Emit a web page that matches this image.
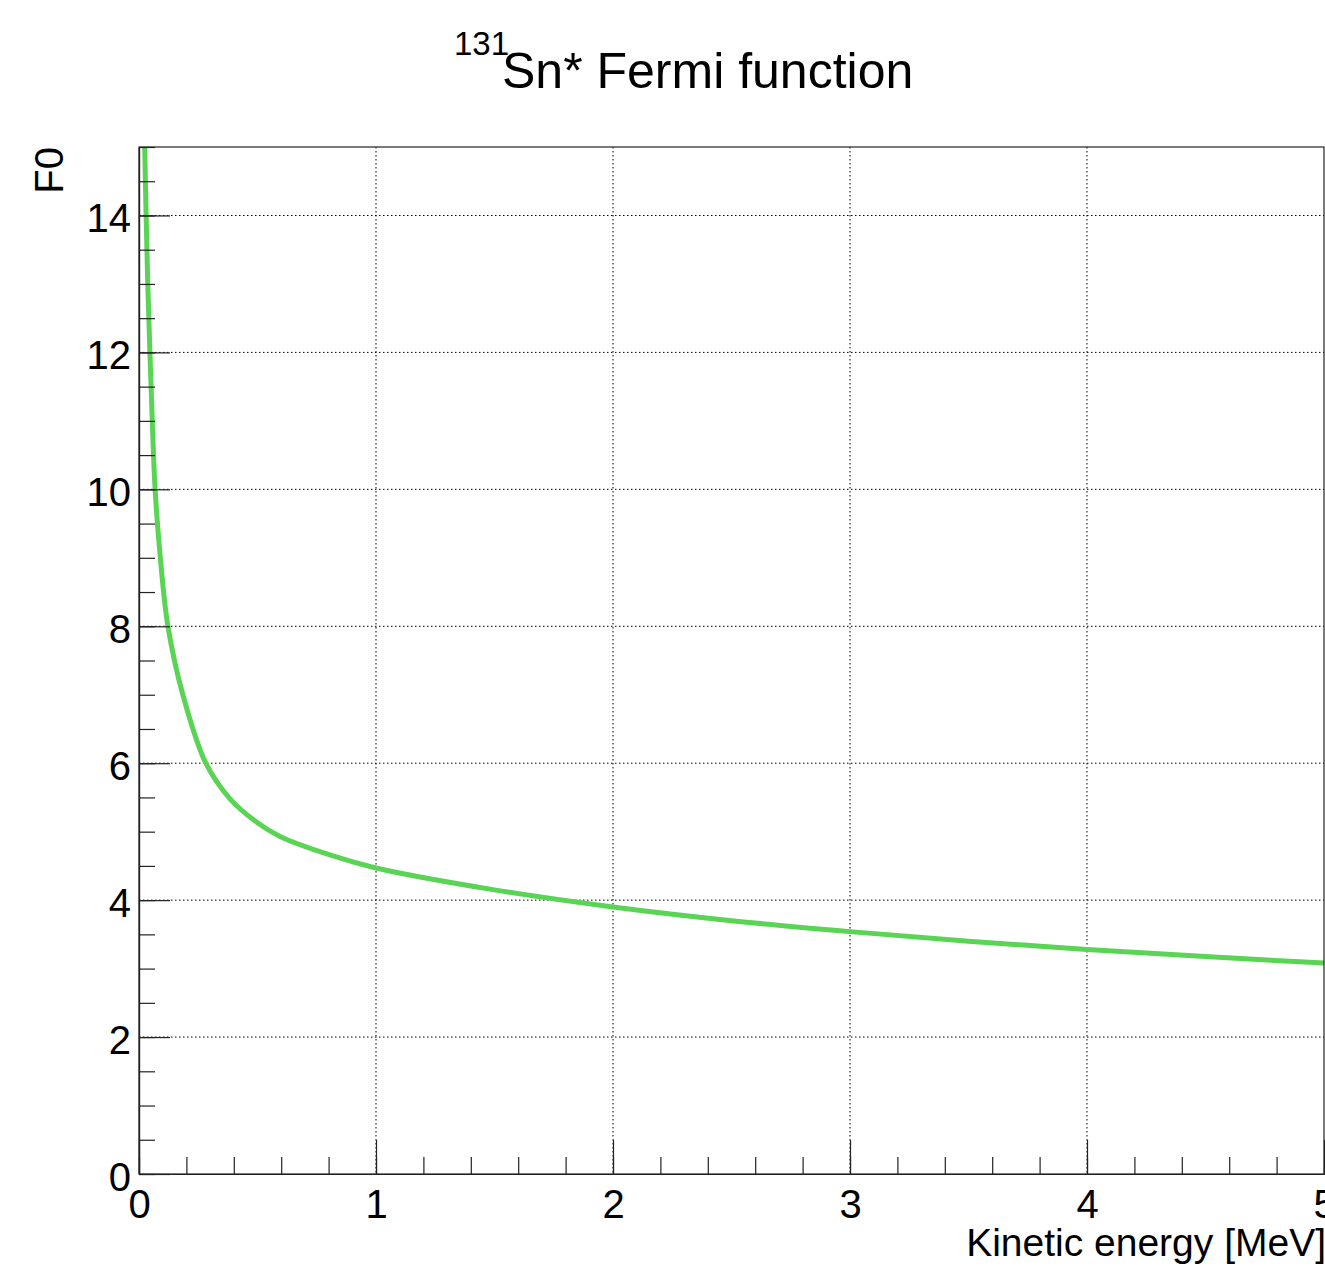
<!DOCTYPE html>
<html>
<head>
<meta charset="utf-8">
<script src="https://cdn.jsdelivr.net/npm/d3@7"></script>
<style>
  body { margin: 0; background: #fff; }
  text { font-family: "Liberation Sans", Arial, sans-serif; fill: #000; }
  .grid-line { stroke: #000; stroke-width: 1; stroke-dasharray: 1.5 2.5; }
  .axis path, .axis line { stroke: #222; stroke-width: 1.2; }
</style>
</head>
<body>
<div id="wrapper"></div>
<script>
// values
const energy = [0.024, 0.03, 0.037, 0.046, 0.056, 0.068, 0.09, 0.122, 0.185, 0.282, 0.384, 0.5, 0.595, 0.806, 1.0, 1.5, 2.0, 2.5, 3.0, 3.5, 4.0, 4.5, 5.0];
const fermi = [15.0, 14.0, 13.0, 12.0, 11.0, 10.0, 9.0, 8.0, 7.0, 6.0, 5.48, 5.13, 4.93, 4.66, 4.47, 4.15, 3.9, 3.7, 3.54, 3.4, 3.28, 3.175, 3.08];
const xTicks = [0, 1, 2, 3, 4, 5];
const yTicks = [0, 2, 4, 6, 8, 10, 12, 14];
const xDomain = [0, 5];
const yDomain = [0, 15];

async function drawChart() {
  // 1. Access data
  const dataset = energy.map((e, i) => ({ x: e, y: fermi[i] }));
  const xAccessor = (d) => d.x;
  const yAccessor = (d) => d.y;

  // 2. Create chart dimensions
  let dimensions = {
    width: 1325,
    height: 1267,
    margin: {
      top: 147,
      right: 1,
      bottom: 93,
      left: 139,
    },
  };
  dimensions.boundedWidth =
    dimensions.width - dimensions.margin.left - dimensions.margin.right;
  dimensions.boundedHeight =
    dimensions.height - dimensions.margin.top - dimensions.margin.bottom;

  // 3. Draw canvas
  const wrapper = d3
    .select("#wrapper")
    .append("svg")
    .attr("width", dimensions.width)
    .attr("height", dimensions.height);

  wrapper
    .append("rect")
    .attr("width", dimensions.width)
    .attr("height", dimensions.height)
    .attr("fill", "#fff");

  const bounds = wrapper
    .append("g")
    .attr(
      "transform",
      `translate(${dimensions.margin.left}, ${dimensions.margin.top})`
    );

  // 4. Create scales
  const xScale = d3
    .scaleLinear()
    .domain(xDomain)
    .range([0, dimensions.boundedWidth]);

  const yScale = d3
    .scaleLinear()
    .domain(yDomain)
    .range([dimensions.boundedHeight, 0]);

  // 5. Draw peripherals (grid first)
  const grid = bounds.append("g");
  grid
    .selectAll(".grid-x")
    .data(xTicks.filter((d) => d > 0 && d < xDomain[1]))
    .join("line")
    .attr("class", "grid-line")
    .attr("x1", (d) => xScale(d))
    .attr("x2", (d) => xScale(d))
    .attr("y1", 0)
    .attr("y2", dimensions.boundedHeight);
  grid
    .selectAll(".grid-y")
    .data(yTicks.filter((d) => d > 0))
    .join("line")
    .attr("class", "grid-line")
    .attr("x1", 0)
    .attr("x2", dimensions.boundedWidth)
    .attr("y1", (d) => yScale(d))
    .attr("y2", (d) => yScale(d));

  // 6. Draw data
  bounds
    .append("clipPath")
    .attr("id", "clip")
    .append("rect")
    .attr("width", dimensions.boundedWidth)
    .attr("height", dimensions.boundedHeight);

  const lineGenerator = d3
    .line()
    .x((d) => xScale(xAccessor(d)))
    .y((d) => yScale(yAccessor(d)))
    .curve(d3.curveCatmullRom.alpha(0.5));

  bounds
    .append("path")
    .attr("clip-path", "url(#clip)")
    .attr("d", lineGenerator(dataset))
    .attr("fill", "none")
    .attr("stroke", "#59d454")
    .attr("stroke-width", 5);

  // frame
  bounds
    .append("rect")
    .attr("width", dimensions.boundedWidth)
    .attr("height", dimensions.boundedHeight)
    .attr("fill", "none")
    .attr("stroke", "#222")
    .attr("stroke-width", 1.2);

  // axes: minor ticks then major ticks
  const xMinor = d3
    .axisBottom(xScale)
    .tickValues(d3.range(0, 5.001, 0.2))
    .tickSizeInner(-17)
    .tickSizeOuter(0)
    .tickFormat("");
  bounds
    .append("g")
    .attr("class", "axis")
    .attr("transform", `translate(0, ${dimensions.boundedHeight})`)
    .call(xMinor);

  const xAxis = d3
    .axisBottom(xScale)
    .tickValues(xTicks)
    .tickSizeInner(-34)
    .tickSizeOuter(0)
    .tickFormat(d3.format("d"));
  const xAxisGroup = bounds
    .append("g")
    .attr("class", "axis")
    .attr("transform", `translate(0, ${dimensions.boundedHeight})`)
    .call(xAxis);
  xAxisGroup
    .selectAll("text")
    .attr("y", 44)
    .attr("dy", 0)
    .style("font-size", "40px");

  const yMinor = d3
    .axisLeft(yScale)
    .tickValues(d3.range(0, 15.001, 0.5))
    .tickSizeInner(-16)
    .tickSizeOuter(0)
    .tickFormat("");
  bounds.append("g").attr("class", "axis").call(yMinor);

  const yAxis = d3
    .axisLeft(yScale)
    .tickValues(yTicks)
    .tickSizeInner(-31)
    .tickSizeOuter(0)
    .tickPadding(8)
    .tickFormat(d3.format("d"));
  const yAxisGroup = bounds.append("g").attr("class", "axis").call(yAxis);
  yAxisGroup
    .selectAll("text")
    .attr("dy", 0)
    .attr("y", 16)
    .style("font-size", "40px");

  // remove the default font attrs d3 puts on axis groups
  bounds.selectAll(".axis").attr("font-family", null).attr("font-size", null);

  // titles
  wrapper
    .append("text")
    .attr("x", dimensions.width + 1)
    .attr("y", 1256)
    .attr("text-anchor", "end")
    .style("font-size", "39px")
    .text("Kinetic energy [MeV]");

  wrapper
    .append("text")
    .attr("transform", `translate(63, ${dimensions.margin.top}) rotate(-90)`)
    .attr("text-anchor", "end")
    .style("font-size", "40px")
    .text("F0");

  wrapper
    .append("text")
    .attr("x", 454)
    .attr("y", 55)
    .style("font-size", "33px")
    .text("131");
  wrapper
    .append("text")
    .attr("x", 502)
    .attr("y", 88)
    .style("font-size", "50px")
    .text("Sn* Fermi function");
}
drawChart();
</script>
</body>
</html>
